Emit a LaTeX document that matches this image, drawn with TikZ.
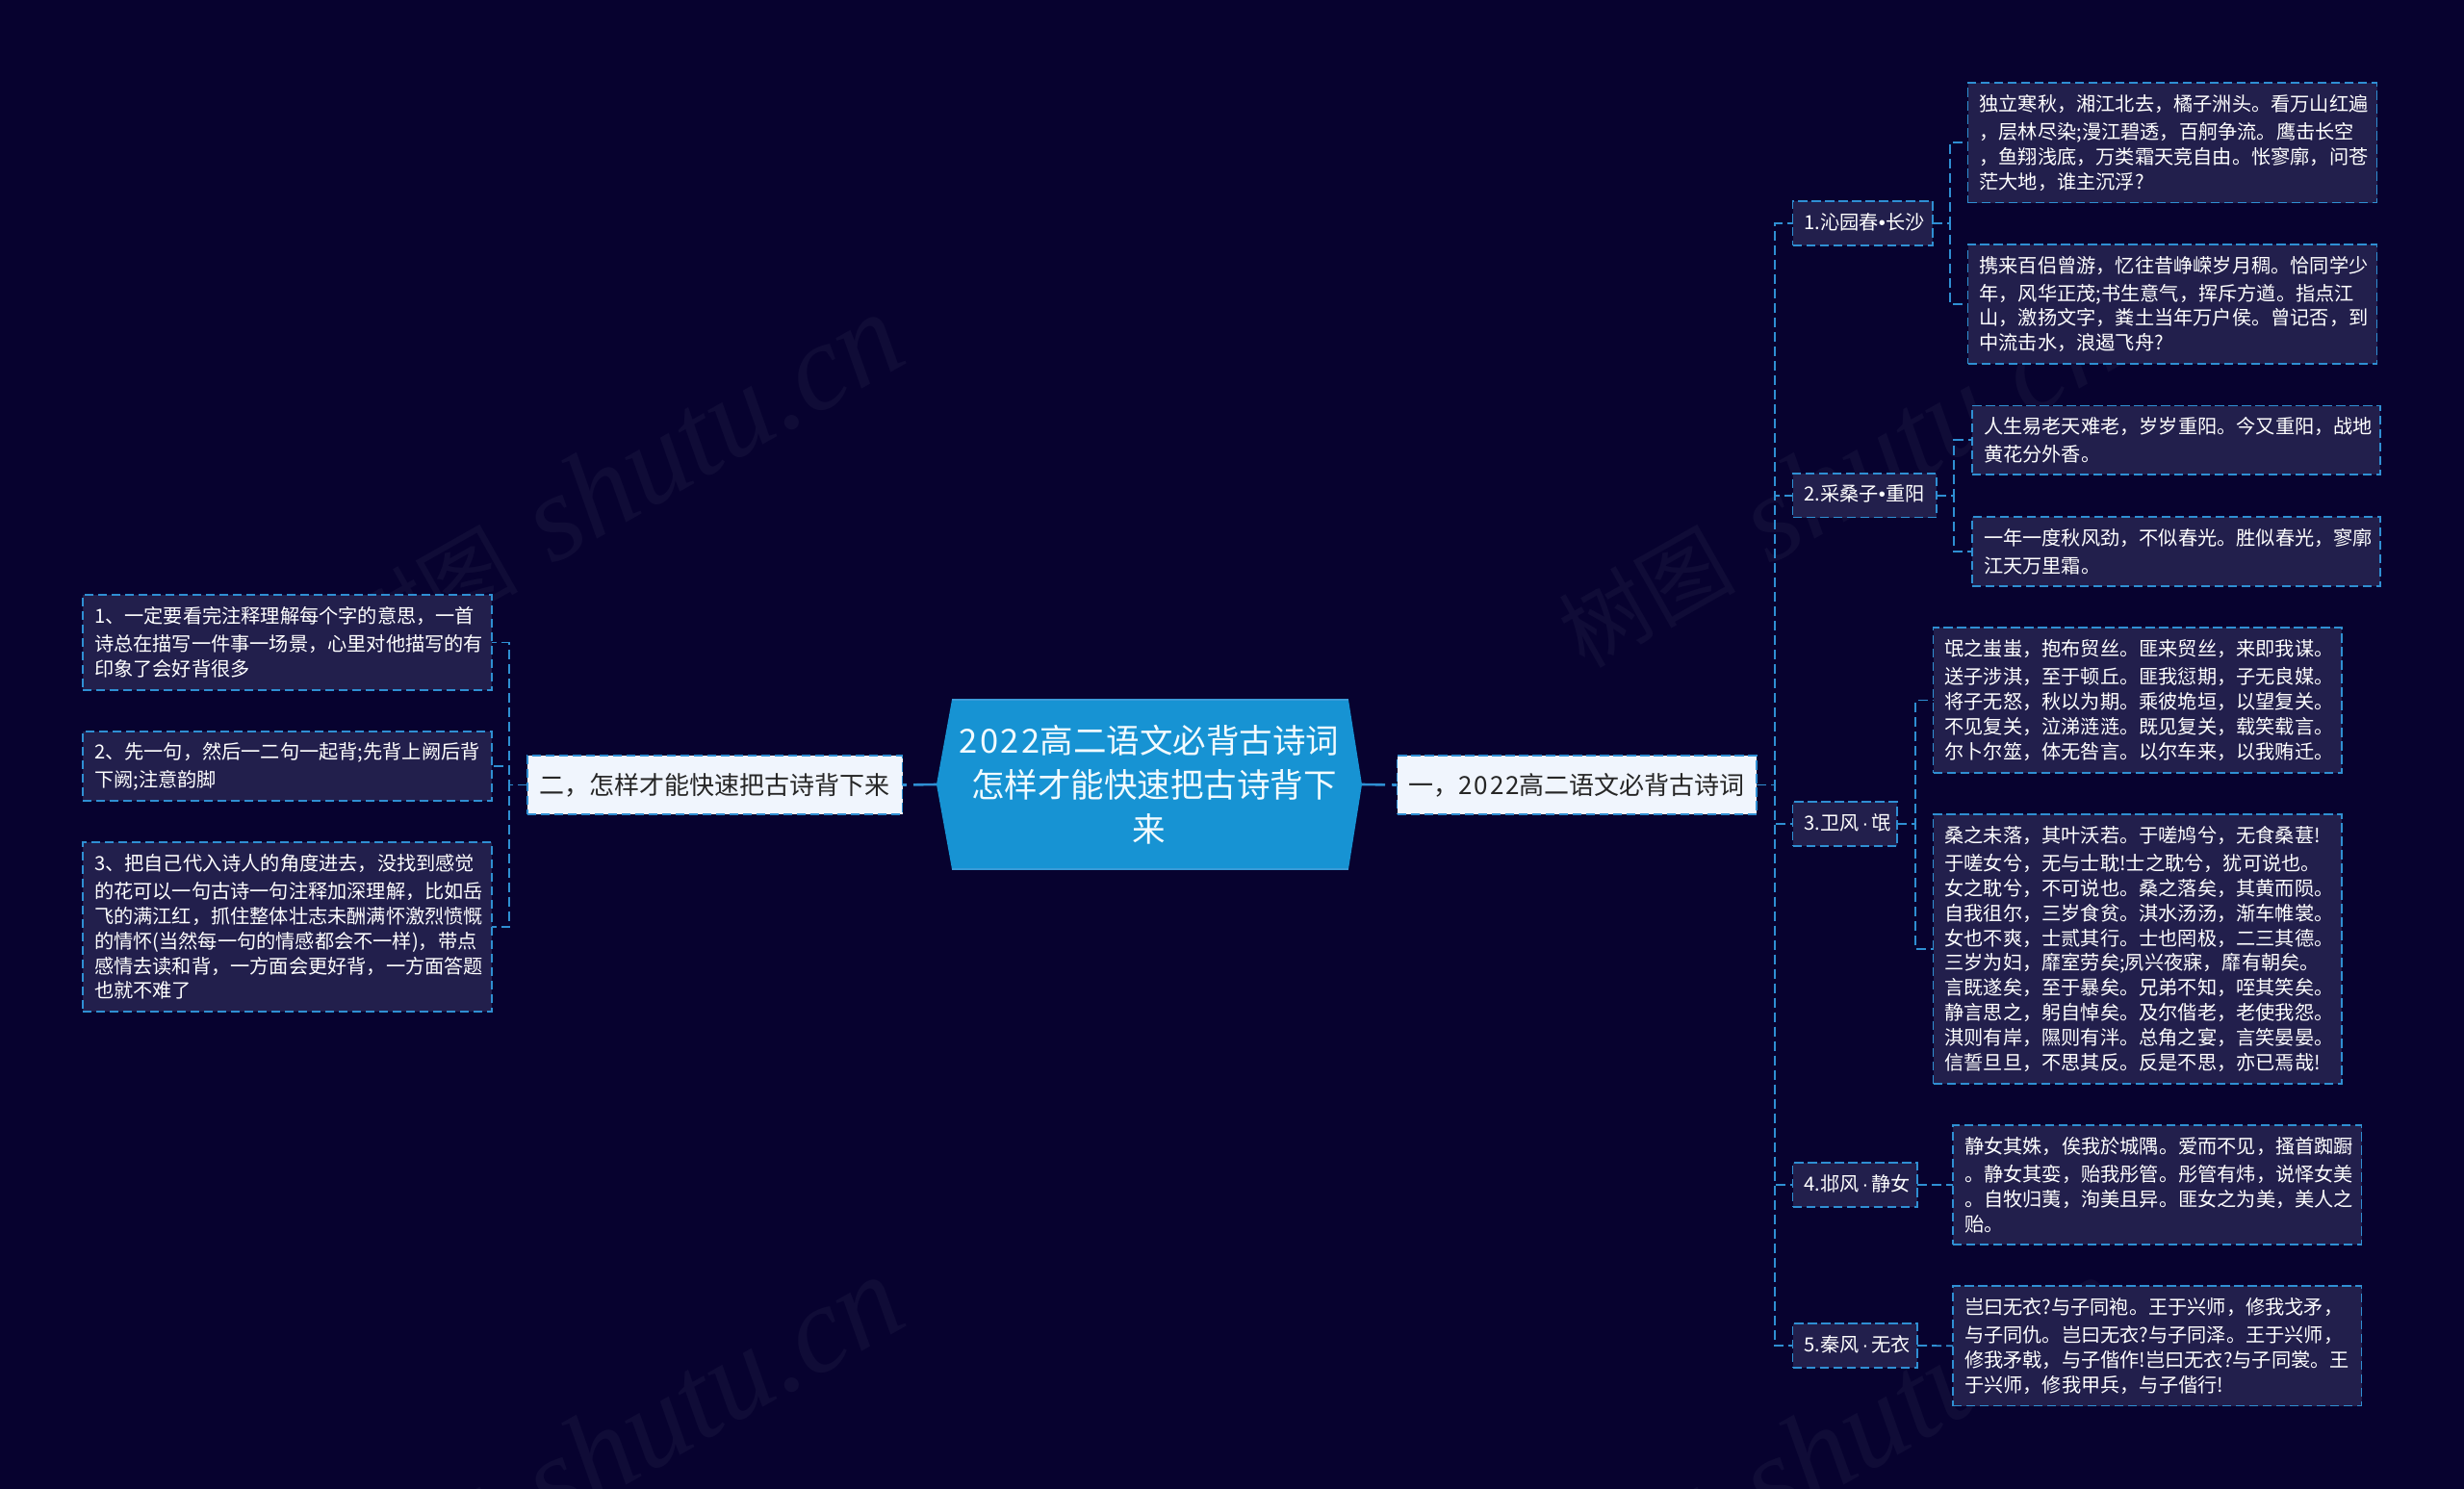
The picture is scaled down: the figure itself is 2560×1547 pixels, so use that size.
\documentclass[tikz,border=0pt]{standalone}
\usepackage{fontspec}
\setmainfont{Noto Sans CJK SC}
\newfontfamily\wmlatin{Liberation Serif}
\newfontfamily\latf{Liberation Sans}
\newfontfamily\dgf[LetterSpace=7]{Noto Sans CJK SC}
\definecolor{bgc}{HTML}{07022F}
\definecolor{boxc}{HTML}{221F4C}
\definecolor{linec}{HTML}{2F8FD3}
\definecolor{centerc}{HTML}{1793D3}
\definecolor{centerl}{HTML}{3A9BD8}
\definecolor{lightc}{HTML}{F0F5FD}
\definecolor{wmc}{HTML}{100C37}
\definecolor{titlec}{HTML}{F2FBFF}
\newcommand{\leafsetup}{\setlength{\baselineskip}{12.9pt}\setlength{\lineskiplimit}{-6pt}\vspace*{1.6pt}}
\tikzset{
  x=0.5pt,y=-0.5pt,
  conn/.style={draw=linec,line width=0.9pt,dash pattern=on 5pt off 2.5pt},
  connthick/.style={draw=linec,line width=1.3pt,dash pattern=on 12pt off 3.5pt},
  tb/.style={rectangle,inner xsep=6pt,inner ysep=0pt,outer sep=0pt,align=left},
  leaf/.style={tb,fill=boxc,draw=linec,line width=0.9pt,dash pattern=on 4.6pt off 2.4pt,text=white,font=\fontsize{10.1}{13}\selectfont,execute at begin node=\leafsetup},
  main/.style={tb,fill=lightc,draw=linec,line width=0.9pt,dash pattern=on 4.6pt off 2.4pt,text=black!85,font=\fontsize{13}{17}\selectfont},
  wm/.style={text=wmc,rotate=29.5,inner sep=0pt,anchor=base east,font=\fontsize{46}{46}\selectfont},
}
\newcommand{\bx}[7]{%
  \pgfmathsetmacro{\cxv}{(#2+#4)/2}%
  \pgfmathsetmacro{\cyv}{(#3+#5)/2}%
  \pgfmathsetmacro{\bwv}{(#4-#2)/2}%
  \pgfmathsetmacro{\bhv}{(#5-#3)/2}%
  \pgfmathsetmacro{\btv}{\bwv-12}%
  \node[#6,minimum width=\bwv pt,minimum height=\bhv pt,text width=\btv pt] (#1) at (\cxv,\cyv) {#7};%
}
\newcommand{\wmtext}{树图\hspace{18pt}{\wmlatin\itshape\fontsize{64}{64}\selectfont shutu.cn}}
\newcommand{\bul}{{\latf •}}
\newcommand{\mdt}{\mbox{\hspace{1.5pt}{\latf ·}\hspace{1.5pt}}}
\begin{document}
\begin{tikzpicture}
\useasboundingbox (0,0) rectangle (2560,1547);
\fill[bgc] (0,0) rectangle (2560,1547);
\begin{scope}
\clip (0,0) rectangle (2560,1547);
\node[wm] (w1) at (948,375) {\wmtext};
\node[wm] (w2) at (2213,375) {\wmtext};
\node[wm] (w3) at (948,1375) {\wmtext};
\node[wm] (w4) at (2213,1375) {\wmtext};
\end{scope}
% centre
\fill[centerc] (989,727) -- (1401,727) -- (1415,815) -- (1401,903) -- (989,903) -- (973,815) -- cycle;
\draw[centerl,line width=1pt] (989,727) -- (1401,727);
\draw[centerl,line width=1pt] (989,903) -- (1401,903);
\node[rectangle,minimum width=221pt,minimum height=88pt,inner sep=0pt,outer sep=0pt,align=center,text=titlec,font=\fontsize{17.25}{23}\selectfont] (c) at (1194,815) {{\dgf 2022}高二语文必背古诗词\\\hspace*{5pt}怎样才能快速把古诗背下\\来};
% main branches
\bx{a}{1451.5}{785}{1825}{846}{main}{一，{\dgf 2022}高二语文必背古诗词}
\bx{b}{548}{785}{937.5}{846}{main}{二，怎样才能快速把古诗背下来}
% subs
\bx{s1}{1862.5}{209}{2008}{255}{leaf}{1.沁园春\bul 长沙}
\bx{s2}{1862.5}{492}{2012}{537.5}{leaf}{2.采桑子\bul 重阳}
\bx{s3}{1862.5}{833}{1971}{879}{leaf}{3.卫风\mdt{}氓}
\bx{s4}{1862.5}{1208}{1992}{1254}{leaf}{4.邶风\mdt{}静女}
\bx{s5}{1862.5}{1375}{1992}{1421}{leaf}{5.秦风\mdt{}无衣}
% leaves
\bx{l1a}{2044.5}{86}{2469.5}{210.5}{leaf}{独立寒秋，湘江北去，橘子洲头。看万山红遍\\，层林尽染;漫江碧透，百舸争流。鹰击长空\\，鱼翔浅底，万类霜天竞自由。怅寥廓，问苍\\茫大地，谁主沉浮?}
\bx{l1b}{2044.5}{254}{2469.5}{378}{leaf}{携来百侣曾游，忆往昔峥嵘岁月稠。恰同学少\\年，风华正茂;书生意气，挥斥方遒。指点江\\山，激扬文字，粪土当年万户侯。曾记否，到\\中流击水，浪遏飞舟?}
\bx{l2a}{2049}{421.5}{2473}{493}{leaf}{人生易老天难老，岁岁重阳。今又重阳，战地\\黄花分外香。}
\bx{l2b}{2049}{537}{2473}{609}{leaf}{一年一度秋风劲，不似春光。胜似春光，寥廓\\江天万里霜。}
\bx{l3a}{2008.5}{652}{2433}{803}{leaf}{氓之蚩蚩，抱布贸丝。匪来贸丝，来即我谋。\\送子涉淇，至于顿丘。匪我愆期，子无良媒。\\将子无怒，秋以为期。乘彼垝垣，以望复关。\\不见复关，泣涕涟涟。既见复关，载笑载言。\\尔卜尔筮，体无咎言。以尔车来，以我贿迁。}
\bx{l3b}{2008.5}{846}{2433}{1126}{leaf}{桑之未落，其叶沃若。于嗟鸠兮，无食桑葚!\\于嗟女兮，无与士耽!士之耽兮，犹可说也。\\女之耽兮，不可说也。桑之落矣，其黄而陨。\\自我徂尔，三岁食贫。淇水汤汤，渐车帷裳。\\女也不爽，士贰其行。士也罔极，二三其德。\\三岁为妇，靡室劳矣;夙兴夜寐，靡有朝矣。\\言既遂矣，至于暴矣。兄弟不知，咥其笑矣。\\静言思之，躬自悼矣。及尔偕老，老使我怨。\\淇则有岸，隰则有泮。总角之宴，言笑晏晏。\\信誓旦旦，不思其反。反是不思，亦已焉哉!}
\bx{l4}{2029}{1169}{2453.5}{1293}{leaf}{静女其姝，俟我於城隅。爱而不见，搔首踟蹰\\。静女其娈，贻我彤管。彤管有炜，说怿女美\\。自牧归荑，洵美且异。匪女之为美，美人之\\贻。}
\bx{l5}{2029}{1336}{2453.5}{1460.5}{leaf}{岂曰无衣?与子同袍。王于兴师，修我戈矛，\\与子同仇。岂曰无衣?与子同泽。王于兴师，\\修我矛戟，与子偕作!岂曰无衣?与子同裳。王\\于兴师，修我甲兵，与子偕行!}
\bx{r1}{86}{618}{511}{717}{leaf}{1、一定要看完注释理解每个字的意思，一首\\诗总在描写一件事一场景，心里对他描写的有\\印象了会好背很多}
\bx{r2}{86}{760}{511}{832}{leaf}{2、先一句，然后一二句一起背;先背上阙后背\\下阙;注意韵脚}
\bx{r3}{86}{875}{511}{1051}{leaf}{3、把自己代入诗人的角度进去，没找到感觉\\的花可以一句古诗一句注释加深理解，比如岳\\飞的满江红，抓住整体壮志未酬满怀激烈愤慨\\的情怀(当然每一句的情感都会不一样)，带点\\感情去读和背，一方面会更好背，一方面答题\\也就不难了}
% connectors
\draw[connthick] (c.east) -- (a.west);
\draw[connthick] (c.west) -- (b.east);
\foreach \n in {s1,s2,s3,s4,s5} \draw[conn] (a.east) -- ++(19,0) |- (\n.west);
\foreach \n in {r1,r2,r3} \draw[conn] (b.west) -- ++(-19,0) |- (\n.east);
\foreach \n in {l1a,l1b} \draw[conn] (s1.east) -- ++(18,0) |- (\n.west);
\foreach \n in {l2a,l2b} \draw[conn] (s2.east) -- ++(18,0) |- (\n.west);
\foreach \n in {l3a,l3b} \draw[conn] (s3.east) -- ++(19,0) |- (\n.west);
\draw[conn] (s4.east) -- (l4.west);
\draw[conn] (s5.east) -- (l5.west);
\end{tikzpicture}
\end{document}
